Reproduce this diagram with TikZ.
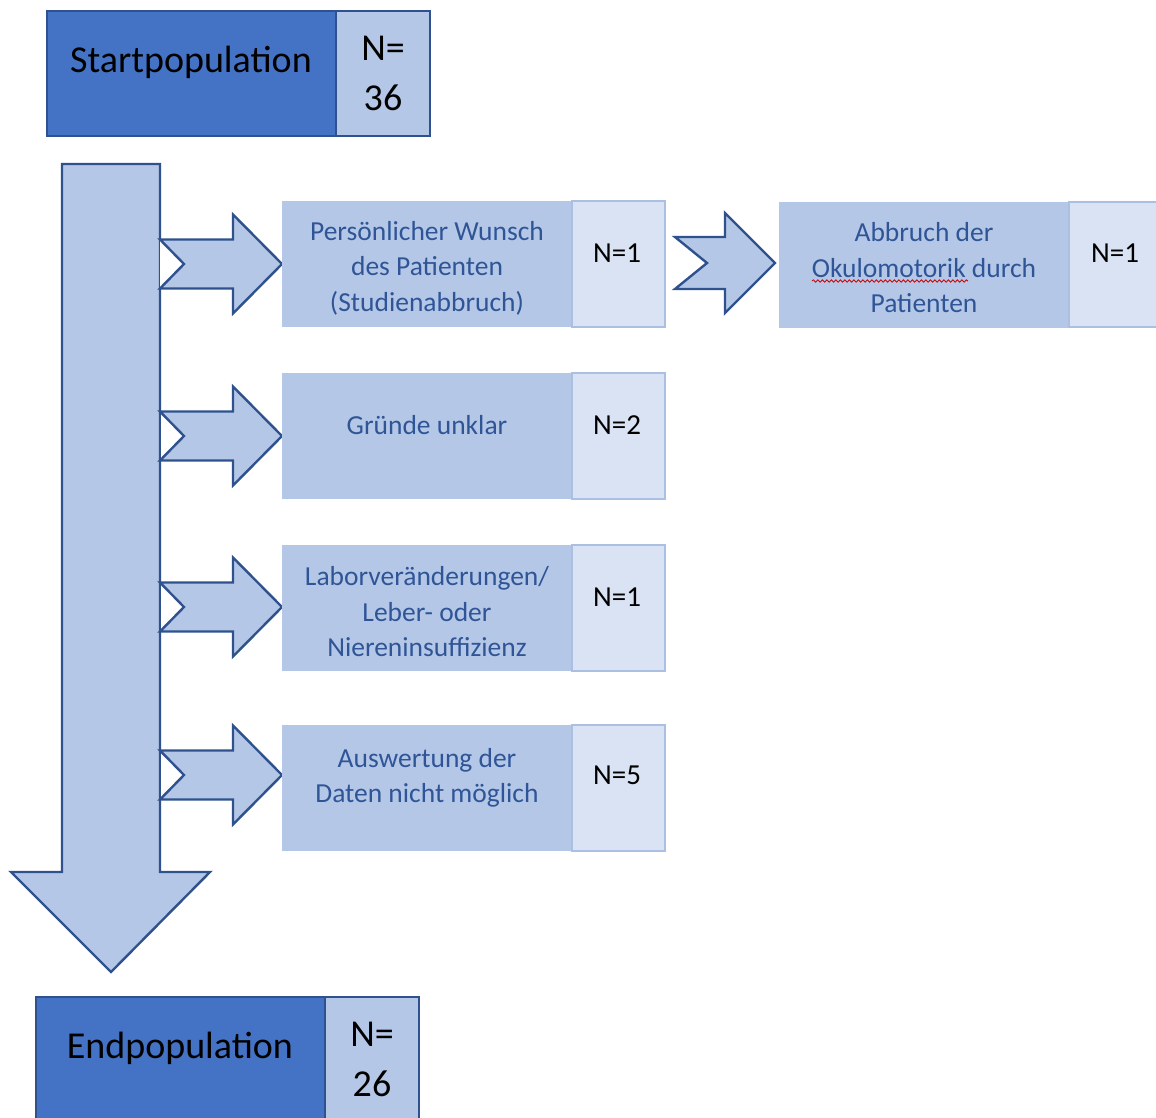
\documentclass[tikz,border=0pt]{standalone}
\usepackage{fontspec}
\setmainfont{Carlito}
\usetikzlibrary{decorations.pathmorphing}
\definecolor{dkfill}{HTML}{4472C4}
\definecolor{dkline}{HTML}{2F528F}
\definecolor{ltfill}{HTML}{B4C7E7}
\definecolor{nfill}{HTML}{DAE3F3}
\definecolor{nline}{HTML}{ABBFE3}
\definecolor{txtblue}{HTML}{2F5597}
\begin{document}
\begin{tikzpicture}[x=1pt,y=-1pt,
  dkbox/.style={draw=dkline, line width=2.4pt, fill=dkfill, inner sep=0pt, outer sep=0pt, minimum width=289pt, minimum height=125pt},
  dknbox/.style={draw=dkline, line width=2.4pt, fill=ltfill, inner sep=0pt, outer sep=0pt, minimum width=94pt, minimum height=125pt},
  descbox/.style={fill=ltfill, inner sep=0pt, outer sep=0pt, minimum width=290pt, minimum height=126pt},
  nbox/.style={draw=nline, line width=1.8pt, fill=nfill, inner sep=0pt, outer sep=0pt, minimum width=93pt, minimum height=126pt},
  bigtxt/.style={font=\fontsize{38}{50}\selectfont, text=black, inner sep=0pt, align=center},
  desctxt/.style={font=\fontsize{27.5}{35.5}\selectfont, text=txtblue, inner sep=0pt, align=center},
  ntxt/.style={font=\fontsize{29}{34}\selectfont, text=black, inner sep=0pt},
  arr/.style={draw=dkline, line width=2.4pt, fill=ltfill, line join=miter},
  sidearrow/.pic={
    \fill[white] (0,-24.5) -- (24,0) -- (0,24.5) -- cycle;
    \draw[arr] (0,-24.5) -- (73,-24.5) -- (73,-49.5) -- (122,0) -- (73,49.5) -- (73,24.5) -- (0,24.5) -- (24,0) -- cycle;
  }
]
\useasboundingbox (0,0) rectangle (1156,1117);
\fill[white] (0,0) rectangle (1156,1117);

% start population
\node[dkbox] (startbox) at (191.5,73.5) {};
\node[dknbox] (startn) at (383,73.5) {};
\node[bigtxt] (starttxt) at (191,62) {Startpopulation};
\node[bigtxt] (startnum) at (383,73) {N=\\36};

% big down arrow
\draw[arr] (62,164) -- (160,164) -- (160,872) -- (210,872) -- (111,972) -- (11,872) -- (62,872) -- cycle;

% side arrows
\pic at (160,264) {sidearrow};
\pic at (160,436) {sidearrow};
\draw[dkline, line width=2.4pt] (160,411.5) -- (160,460.5);
\pic at (160,607) {sidearrow};
\draw[dkline, line width=2.4pt] (160,582.5) -- (160,631.5);
\pic at (160,775) {sidearrow};
\draw[dkline, line width=2.4pt] (160,750.5) -- (160,799.5);

% box 1
\node[descbox] (b1) at (427,264) {};
\node[nbox] (b1n) at (618.5,264) {};
\node[desctxt] (b1t) at (427,268) {Persönlicher Wunsch\\des Patienten\\(Studienabbruch)};
\node[ntxt] (b1nt) at (617,253) {N=1};

% arrow to box 2
\draw[arr] (675,237) -- (725,237) -- (725,213) -- (775,263) -- (725,313) -- (725,289) -- (675,289) -- (707,263) -- cycle;

% box 2
\node[descbox] (b2) at (924,264.5) {};
\node[nbox, minimum height=125pt] (b2n) at (1115.5,264.5) {};
\node[desctxt] (b2t) at (924,268) {Abbruch der\\Okulomotorik durch\\Patienten};
\node[ntxt] (b2nt) at (1115,253) {N=1};
\draw[red!80!black, line width=0.8pt, decorate, decoration={snake, amplitude=1.2pt, segment length=4.5pt}] (812,281) -- (968,281);

% box 3
\node[descbox] (b3) at (427,436) {};
\node[nbox] (b3n) at (618.5,436) {};
\node[desctxt] (b3t) at (427,425) {Gründe unklar};
\node[ntxt] (b3nt) at (617,425) {N=2};

% box 4
\node[descbox] (b4) at (427,608) {};
\node[nbox] (b4n) at (618.5,608) {};
\node[desctxt] (b4t) at (427,612) {Laborveränderungen/\\Leber- oder\\Niereninsuffizienz};
\node[ntxt] (b4nt) at (617,597) {N=1};

% box 5
\node[descbox] (b5) at (427,788) {};
\node[nbox] (b5n) at (618.5,788) {};
\node[desctxt] (b5t) at (427,778) {Auswertung der\\Daten nicht möglich};
\node[ntxt] (b5nt) at (617,775) {N=5};

% end population
\node[dkbox] (endbox) at (180.5,1059.5) {};
\node[dknbox] (endn) at (372,1059.5) {};
\node[bigtxt] (endtxt) at (180,1048) {Endpopulation};
\node[bigtxt] (endnum) at (372,1059) {N=\\26};
\end{tikzpicture}
\end{document}
